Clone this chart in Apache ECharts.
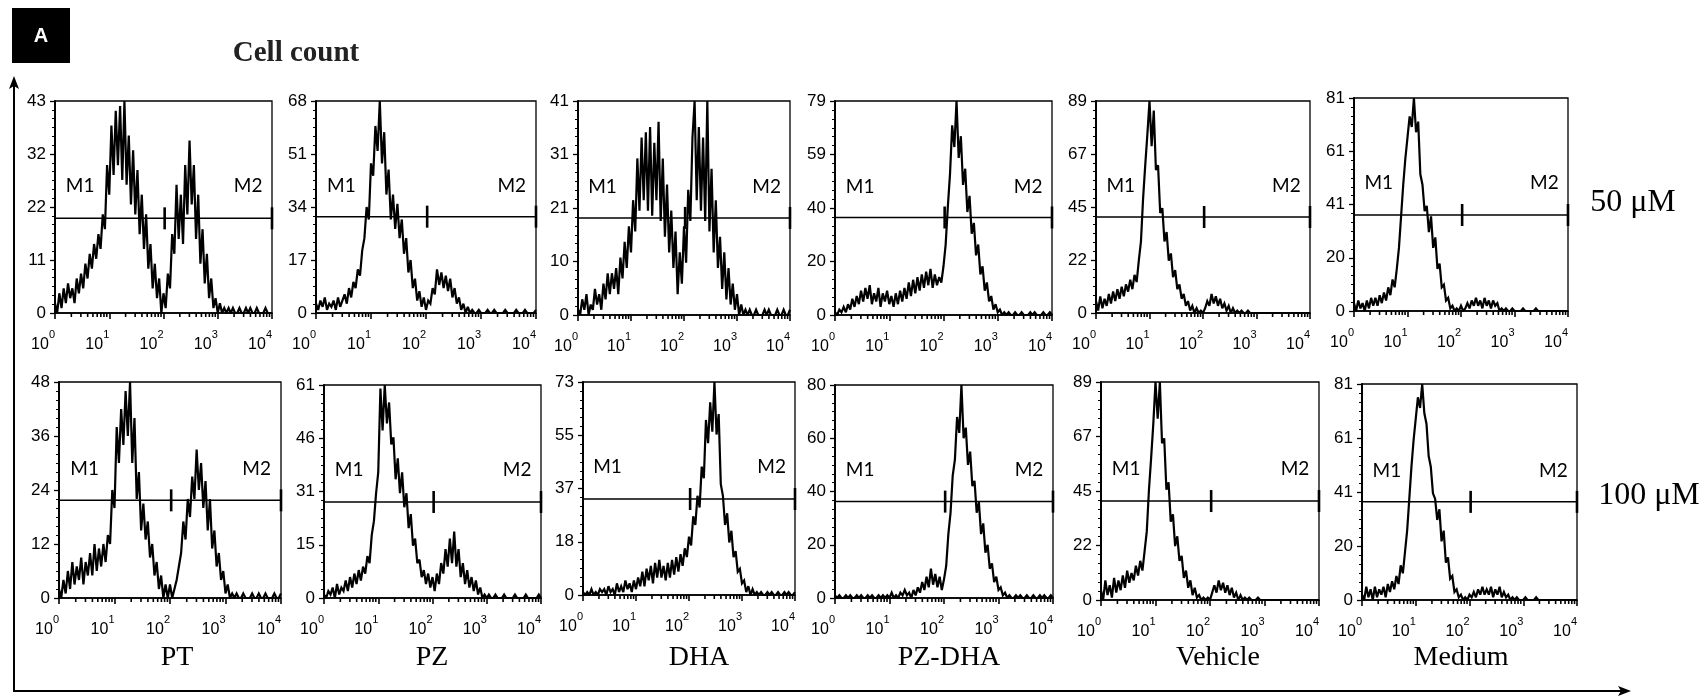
<!DOCTYPE html>
<html>
<head>
<meta charset="utf-8">
<script src="https://cdn.jsdelivr.net/npm/echarts@6.0.0/dist/echarts.min.js"></script>
<style>
html,body{margin:0;padding:0;background:#fff;}
#chart{width:1704px;height:699px;}
</style>
</head>
<body>
<div id="chart"></div>
<script>
// ---------------- DATA ----------------
const treatments = ['PT', 'PZ', 'DHA', 'PZ-DHA', 'Vehicle', 'Medium'];
const doses = ['50 μM', '100 μM'];
const xExponentLabels = ['0', '1', '2', '3', '4'];
const markerLabels = ['M1', 'M2'];

// log-channel mantissas (25 bins per decade)
const binMantissas = [1, 1.096, 1.202, 1.318, 1.445, 1.585, 1.738, 1.905, 2.089, 2.291, 2.512, 2.754, 3.020, 3.311, 3.631, 3.981, 4.365, 4.786, 5.248, 5.754, 6.310, 6.918, 7.586, 8.318, 9.120];

const yMax50 = [43, 68, 41, 79, 89, 81];
const yMax100 = [48, 61, 73, 80, 89, 81];
const yLabels50 = [['0','11','22','32','43'], ['0','17','34','51','68'], ['0','10','21','31','41'], ['0','20','40','59','79'], ['0','22','45','67','89'], ['0','20','41','61','81']];
const yLabels100 = [['0','12','24','36','48'], ['0','15','31','46','61'], ['0','18','37','55','73'], ['0','20','40','60','80'], ['0','22','45','67','89'], ['0','20','41','61','81']];
const gate50 = [19.2, 30.9, 18.6, 36, 40.3, 36.5];
const gate100 = [21.7, 27.5, 32.9, 36.2, 40.4, 36.8];
const gateSplit = 105;

const PT_50 = [2,0,4,1,5,2,6,3,5,2,7,4,8,5,10,7,12,9,14,11,16,13,20,17,30,
  24,38,28,41,30,42,27,43,26,36,22,33,20,29,16,24,13,20,9,14,5,10,3,7,0,
  4,1,8,5,16,12,26,15,24,14,30,20,35,22,30,15,24,10,17,6,12,3,7,1,3,
  0,2,0,1,0,1,0,1,0,0,1,0,0,1,0,1,0,0,1,0,0,0,1,0,0,
  0];
const PZ_50 = [3,1,4,2,5,1,3,2,4,1,5,2,4,6,3,8,5,10,8,14,12,20,24,34,30,
  48,44,60,52,68,48,58,38,46,30,38,27,35,24,30,19,24,13,17,8,11,4,7,2,5,
  1,4,3,8,6,14,9,13,8,12,7,11,5,8,3,5,1,3,0,2,0,1,0,0,1,
  0,0,0,1,0,0,1,0,0,0,0,1,0,0,0,0,1,0,0,0,1,0,0,0,0,
  1];
const DHA_50 = [1,0,3,1,4,0,2,1,5,2,4,1,6,3,8,4,8,5,9,4,11,7,14,9,17,
  12,22,16,30,20,34,22,35,20,36,19,33,22,37,18,30,15,25,12,20,9,16,4,12,6,
  17,10,24,18,34,41,22,36,20,34,18,41,16,28,12,22,9,15,5,12,3,9,2,6,1,
  4,0,2,0,1,0,1,0,0,1,0,0,0,1,0,1,0,0,0,1,0,0,1,0,0,
  1];
const PZDHA_50 = [1,0,2,1,3,1,4,2,6,3,7,4,9,5,10,6,11,4,8,5,10,3,8,5,9,
  4,7,3,8,4,9,5,10,6,12,7,13,8,14,9,15,10,16,11,17,10,15,11,14,12,
  18,26,40,52,70,62,79,58,66,48,54,38,44,30,34,22,26,15,18,9,12,5,7,2,4,
  1,2,0,1,0,1,0,0,1,0,0,1,0,0,0,1,0,1,0,0,0,1,0,0,1,
  0];
const VEH_50 = [5,1,7,2,6,3,8,4,9,5,10,6,11,7,12,9,14,10,16,13,22,30,48,62,75,
  89,70,85,60,62,42,44,30,34,22,25,15,18,10,12,6,8,3,5,1,3,0,2,0,1,
  0,2,5,3,8,4,7,3,6,2,4,1,3,0,2,0,1,0,1,0,0,1,0,0,0,
  0,0,0,0,0,0,0,0,0,0,0,0,0,0,0,0,0,0,0,0,0,0,0,0,0,
  0];
const MED_50 = [3,0,4,1,3,0,4,1,5,2,5,2,6,3,7,4,9,6,12,9,16,24,36,48,58,
  66,74,70,81,68,72,52,48,38,40,30,36,24,28,16,18,9,10,4,5,1,2,0,1,0,
  2,0,1,3,1,4,2,5,2,4,1,5,2,4,1,4,2,3,0,1,0,1,0,0,1,
  0,0,0,0,1,0,0,0,0,0,1,0,0,0,0,0,0,0,0,0,0,0,0,0,0,
  0];

const PT_100 = [2,0,4,1,6,2,8,3,7,4,9,3,8,5,10,5,12,6,11,7,12,8,14,12,24,
  20,38,30,42,34,46,36,48,30,40,22,28,15,21,13,17,9,12,5,8,2,5,0,3,0,
  3,0,2,4,7,10,17,13,22,18,27,22,33,24,30,20,26,15,22,11,15,7,10,4,6,
  1,3,0,1,0,1,0,0,1,0,0,0,1,0,0,1,0,0,1,0,0,0,1,0,0,
  1];
const PZ_100 = [1,0,2,1,3,0,4,1,3,2,5,2,6,3,7,4,8,5,9,7,12,10,18,22,30,
  36,60,48,61,50,56,44,46,34,40,30,36,26,30,20,24,15,17,10,11,6,8,4,7,3,
  6,2,7,4,10,7,14,9,17,10,19,9,14,6,10,4,8,3,6,2,5,1,3,0,1,
  0,1,0,0,1,0,0,0,1,0,0,0,0,1,0,0,0,0,1,0,0,0,0,0,1,
  0];
const DHA_100 = [1,0,1,0,2,0,1,0,2,1,2,0,3,1,2,0,4,1,3,1,5,2,4,1,5,
  2,6,3,8,3,9,5,10,4,11,6,12,6,10,5,11,6,12,7,13,8,14,10,16,13,
  20,17,27,24,34,30,44,40,60,52,66,56,73,55,62,38,34,24,28,18,22,13,15,8,9,
  4,5,1,3,0,2,0,1,0,1,0,0,1,0,1,0,0,1,0,0,1,0,1,0,0,
  1];
const PZDHA_100 = [1,0,1,0,0,1,0,1,0,0,1,0,1,0,0,1,0,1,0,0,1,0,1,0,1,
  0,2,0,1,0,2,1,3,1,2,0,3,1,4,2,6,3,8,4,11,5,9,4,8,3,
  7,12,24,32,46,52,68,62,80,60,64,50,55,42,44,32,36,24,28,17,20,11,13,6,8,
  3,4,1,2,0,1,0,0,1,0,1,0,0,1,0,0,1,0,0,1,0,1,0,0,1,
  0];
const VEH_100 = [4,0,8,2,6,1,9,3,8,4,10,5,12,7,11,8,14,10,16,12,20,28,45,58,72,
  89,74,89,64,66,45,48,32,35,22,26,16,18,9,12,5,8,2,5,1,2,0,1,0,1,
  0,3,6,3,8,4,7,3,6,2,5,1,3,0,2,0,1,0,1,0,0,0,1,0,0,
  0,0,0,0,0,0,0,0,0,0,0,0,0,0,0,0,0,0,0,0,0,0,0,0,0,
  0];
const MED_100 = [2,0,5,1,4,0,5,1,4,2,5,1,6,3,7,4,9,6,13,10,18,26,38,50,60,
  68,76,72,81,70,66,54,50,40,38,30,34,22,26,14,16,8,9,3,4,1,2,0,1,0,
  2,1,3,1,4,2,5,2,4,2,5,1,4,2,5,1,3,1,2,0,1,0,1,0,0,
  0,1,0,0,0,0,1,0,0,0,0,0,0,0,0,0,0,0,0,0,0,0,0,0,0,
  0];

const counts50 = [PT_50, PZ_50, DHA_50, PZDHA_50, VEH_50, MED_50];
const counts100 = [PT_100, PZ_100, DHA_100, PZDHA_100, VEH_100, MED_100];

// ---------------- LAYOUT ----------------
const gridBoxes = [
  [55,101,217,212],[316,101,220,212],[578,101,212,214],[835,101,217,214],[1096,101,214,212],[1354,98,214,213],
  [59,382,222,216],[324,385,217,213],[583,382,212,213],[835,385,218,213],[1101,382,218,218],[1362,384,215,216]
];
const treatmentLabelX = [177, 432, 699, 949, 1218, 1461];

// channel positions
const channels = [];
for (let d = 0; d < 4; d++) binMantissas.forEach(m => channels.push(m * Math.pow(10, d)));
channels.push(10000);
const minorPositions = [];
for (let d = 0; d < 4; d++) for (let m = 2; m <= 9; m++) minorPositions.push(m * Math.pow(10, d));

const grids = [], xAxes = [], yAxes = [], series = [];
for (let r = 0; r < 2; r++) {
  for (let c = 0; c < 6; c++) {
    const k = r * 6 + c;
    const box = gridBoxes[k];
    const M = r === 0 ? yMax50[c] : yMax100[c];
    const labels = r === 0 ? yLabels50[c] : yLabels100[c];
    const g = r === 0 ? gate50[c] : gate100[c];
    const vals = r === 0 ? counts50[c] : counts100[c];
    grids.push({left: box[0], top: box[1], width: box[2], height: box[3], show: true,
      borderColor: '#000', borderWidth: 1.3, backgroundColor: 'transparent'});
    xAxes.push({type: 'log', logBase: 10, gridIndex: k, min: 1, max: 10000,
      axisLine: {show: true, onZero: false, lineStyle: {color: '#000', width: 1.6}},
      axisTick: {show: true, length: 6, lineStyle: {color: '#000', width: 1.6}},
      minorTick: {show: false}, splitLine: {show: false},
      axisLabel: {
        show: true, margin: 16, align: 'right', hideOverlap: false, showMinLabel: true, showMaxLabel: true,
        formatter: v => '{b|10}{s|' + xExponentLabels[Math.round(Math.log10(v))] + '}',
        rich: {
          b: {fontSize: 16, fontFamily: 'Liberation Sans', color: '#000', lineHeight: 24, verticalAlign: 'bottom'},
          s: {fontSize: 11, fontFamily: 'Liberation Sans', color: '#000', lineHeight: 11, verticalAlign: 'top'}
        }
      }
    });
    yAxes.push({type: 'value', gridIndex: k, min: 0, max: M, interval: M / 4,
      axisLine: {show: true, onZero: false, lineStyle: {color: '#000', width: 2}},
      axisTick: {show: true, length: 5, lineStyle: {color: '#000', width: 1.3}},
      minorTick: {show: true, splitNumber: 6, length: 3, lineStyle: {color: '#000', width: 1}},
      splitLine: {show: false},
      axisLabel: {color: '#000', fontFamily: 'Liberation Sans', fontSize: 17, margin: 9,
        formatter: v => labels[Math.round(v / (M / 4))]}
    });
    // histogram
    series.push({type: 'line', xAxisIndex: k, yAxisIndex: k, symbol: 'none', showSymbol: false,
      data: channels.map((x, i) => [x, vals[i]]), lineStyle: {color: '#000', width: 2.2, join: 'miter', miterLimit: 3},
      animation: false, z: 3, silent: true});
    // gate line
    series.push({type: 'line', xAxisIndex: k, yAxisIndex: k, symbol: 'none',
      data: [[1, g], [10000, g]], lineStyle: {color: '#000', width: 1.5}, animation: false, z: 4, silent: true});
    // gate ticks
    series.push({type: 'custom', xAxisIndex: k, yAxisIndex: k, clip: false, animation: false, z: 5, silent: true,
      encode: {x: 0, y: 1},
      data: [[gateSplit, g], [10000, g]],
      renderItem: (params, api) => {
        const p = api.coord([api.value(0), api.value(1)]);
        return {type: 'line', shape: {x1: p[0], y1: p[1] - 11, x2: p[0], y2: p[1] + 11},
          style: {stroke: '#000', lineWidth: 2.6}};
      }});
    // marker labels
    series.push({type: 'custom', xAxisIndex: k, yAxisIndex: k, clip: false, animation: false, z: 6, silent: true,
      encode: {x: 0, y: 1},
      data: [[2.9, M * 0.6], [3630, M * 0.6]],
      renderItem: (params, api) => {
        const p = api.coord([api.value(0), api.value(1)]);
        return {type: 'text', x: p[0], y: p[1],
          style: {text: markerLabels[params.dataIndex], font: '19px Lato', fill: '#000', align: 'center', verticalAlign: 'middle'}};
      }});
    // minor x ticks
    series.push({type: 'custom', xAxisIndex: k, yAxisIndex: k, clip: false, animation: false, z: 5, silent: true,
      encode: {x: 0, y: 1},
      data: minorPositions.map(v => [v, 0]),
      renderItem: (params, api) => {
        const p = api.coord([api.value(0), api.value(1)]);
        return {type: 'line', shape: {x1: p[0], y1: p[1], x2: p[0], y2: p[1] + 4},
          style: {stroke: '#000', lineWidth: 1.6}};
      }});
  }
}

const graphics = [
  {type: 'rect', shape: {x: 12, y: 8, width: 58, height: 55}, style: {fill: '#000'}},
  {type: 'text', x: 41, y: 36, style: {text: 'A', font: 'bold 20px "Liberation Sans"', fill: '#fff', align: 'center', verticalAlign: 'middle'}},
  {type: 'text', x: 296, y: 54, style: {text: 'Cell count', font: 'bold 29px "Liberation Serif"', fill: '#222', align: 'center', verticalAlign: 'middle'}},
  {type: 'line', shape: {x1: 14, y1: 691, x2: 14, y2: 82}, style: {stroke: '#000', lineWidth: 2}},
  {type: 'polygon', shape: {points: [[14, 76], [9, 89], [14, 86], [19, 89]]}, style: {fill: '#000'}},
  {type: 'line', shape: {x1: 13, y1: 691, x2: 1624, y2: 691}, style: {stroke: '#000', lineWidth: 2}},
  {type: 'polygon', shape: {points: [[1631, 691], [1618, 686], [1621, 691], [1618, 696]]}, style: {fill: '#000'}},
  {type: 'text', x: 1633, y: 203, style: {text: doses[0], font: '32px "Liberation Serif"', fill: '#000', align: 'center', verticalAlign: 'middle'}},
  {type: 'text', x: 1649, y: 496, style: {text: doses[1], font: '32px "Liberation Serif"', fill: '#000', align: 'center', verticalAlign: 'middle'}}
];
treatments.forEach((t, i) => {
  graphics.push({type: 'text', x: treatmentLabelX[i], y: 658,
    style: {text: t, font: '28px "Liberation Serif"', fill: '#000', align: 'center', verticalAlign: 'middle'}});
});

const chart = echarts.init(document.getElementById('chart'), null, {renderer: 'canvas'});
chart.setOption({
  backgroundColor: '#fff',
  animation: false,
  grid: grids,
  xAxis: xAxes,
  yAxis: yAxes,
  series: series,
  graphic: graphics
});
</script>
</body>
</html>
